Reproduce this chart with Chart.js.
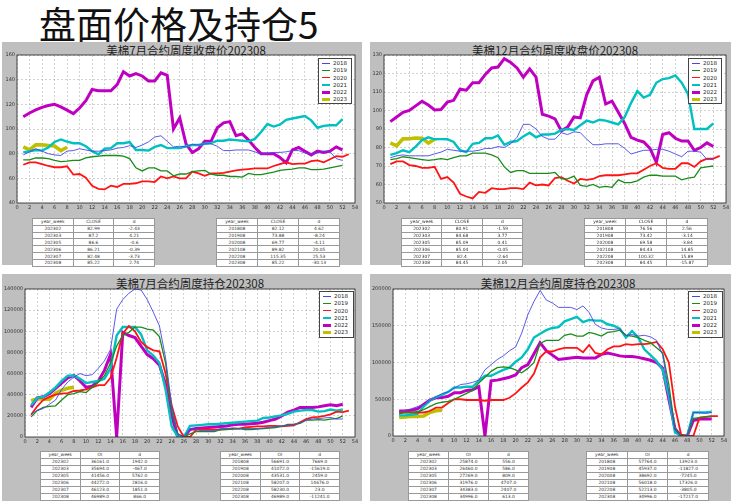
<!DOCTYPE html>
<html>
<head>
<meta charset="utf-8">
<script src="https://cdn.jsdelivr.net/npm/chart.js@4.4.0/dist/chart.umd.min.js"></script>
<style>
  body { margin: 0; width: 733px; height: 501px; background: #fff; position: relative; overflow: hidden; font-family: "DejaVu Sans", sans-serif; }
  .main-title { position: absolute; left: 39px; top: -4px; font: 37px "Noto Sans CJK SC"; color: #111; white-space: nowrap; }
  .panel { position: absolute; background: #bfbfbf; }
  .ptitle { position: absolute; font: 11.5px "Noto Sans CJK SC"; color: #222; white-space: nowrap; transform: translateX(-50%); line-height: 12px; }
  canvas { position: absolute; }
  .legend { position: absolute; background: #fff; border: 1px solid #444; box-sizing: border-box; padding-top: 1px; }
  .legend div { position: relative; height: 7.3px; font: 5.5px "DejaVu Sans"; color: #222; line-height: 7.3px; padding-left: 14px; }
  .legend span { position: absolute; left: 3px; width: 8px; top: 50%; }
  table.tb { position: absolute; border-collapse: collapse; background: #fff; table-layout: fixed; border: 1px solid #777; }
  table.tb td { border: 0.6px solid #999; text-align: center; padding: 0; font: 4.4px "DejaVu Sans"; color: #333; overflow: hidden; white-space: nowrap; }
</style>
</head>
<body>
<div class="main-title">盘面价格及持仓5</div>
<div id="stage"></div>
<script>
  const weeksMax = 54;
  const years = ['2018', '2019', '2020', '2021', '2022', '2023'];
  const colors = ['#4646e6', '#1a8c1a', '#ff1414', '#00c0c0', '#c000c0', '#c0c000'];
  const widths = [0.9, 1.3, 1.8, 2.4, 3, 3.6];

  // 美棉7月 close
  const c7_2018 = [79, 81.5, 84, 82, 80, 79, 78.5, 82.12, 82.5, 84, 83, 82, 82, 82.5, 83, 84.5, 85, 86.5, 85, 87, 89.5, 93.5, 94.5, 90, 85.5, 86, 85.5, 87.5, 87, 88, 88, 86, 82.5, 82.5, 83, 83, 83, 81.5, 79.5, 80, 81, 81, 81.5, 82.5, 82.5, 80.5, 79.5, 80.5, 82, 81.5, 76, 74.5];
  const c7_2019 = [75, 75, 76.5, 76.5, 76, 74.5, 73.5, 73.88, 74.5, 74.5, 76.5, 77.5, 78, 78.5, 78.5, 78.5, 78, 76, 68.5, 66, 68.5, 68.5, 66, 66, 62, 63.5, 63.5, 65.5, 66, 66.5, 63.5, 62.5, 62.5, 61.5, 61.5, 61, 64, 63, 63, 64, 65, 66.5, 67, 67.5, 68.5, 68.5, 67, 67, 67.5, 68.5, 69.5, 70.5];
  const c7_2020 = [71, 73, 73, 71.5, 70, 69, 69, 69.77, 63, 63.5, 60.5, 54, 51.5, 51, 54, 53, 55.5, 55.5, 56, 57.5, 57.5, 57, 61.5, 60, 61.5, 60, 60, 65.5, 64, 62, 64, 64, 64.5, 65.5, 66.5, 67, 67.5, 68, 68, 68, 70, 71.5, 73, 71.5, 72, 72, 74, 74.5, 73, 75.5, 78, 77.5, 79.5];
  const c7_2021 = [81, 82, 83, 82.5, 85, 89.5, 91.5, 89.82, 88.5, 88.5, 86, 82, 79.5, 84, 84.5, 88.5, 88.5, 89.5, 83, 83, 82.5, 85.5, 87, 84.5, 84.5, 84.5, 86, 87, 87, 88, 88.5, 90.5, 90.5, 91.5, 91, 90.5, 90, 92, 97.5, 104, 102, 103.5, 107.5, 108.5, 109.5, 110.5, 107, 101, 102.5, 103, 103, 108];
  const c7_2022 = [110, 113, 115.5, 117.5, 119, 120, 118, 115.35, 112.5, 117, 123, 132, 131, 131, 131, 136, 146.5, 143, 145, 143, 139, 139, 145.5, 143.5, 100, 109, 88, 81, 84, 90, 90, 101, 105, 106, 94.5, 96, 91, 85, 80, 80, 80, 77, 72.5, 83, 85, 82, 79, 82, 81, 82, 85.5, 83];
  const c7_2023 = [85.42, 82.99, 87.2, 87.1, 86.6, 86.21, 82.48, 85.22];

  // 美棉12月 close
  const c12_2018 = [74.5, 75.5, 76, 75.5, 75.5, 75.5, 75.5, 76.56, 77.5, 79, 78.5, 78, 78, 78, 78.5, 79.5, 79.5, 80.5, 80, 82, 85.5, 92.5, 92.5, 90, 86, 84.5, 84.5, 88, 87, 88.5, 88, 84.5, 81.5, 81.5, 82, 82, 82, 79.5, 76.5, 77.5, 78.5, 78.5, 79, 79, 78, 76.5, 75, 78, 78, 77.5, 73.5, 73.5];
  const c12_2019 = [73.5, 74, 75, 74.5, 74, 73.5, 73, 73.42, 74, 73.5, 74.5, 75.5, 75.5, 77, 77, 77, 76, 74.5, 69.5, 66.5, 67.5, 67.5, 66, 66, 66, 66, 66.5, 63, 63, 64.5, 59.5, 59, 60, 58.5, 59, 58.5, 62.5, 61, 61, 62, 64, 65, 65, 64.5, 64.5, 64.5, 62.5, 63.5, 64, 69, 69.5, 70];
  const c12_2020 = [71, 72.5, 72.5, 70.5, 70, 69, 69, 69.58, 63, 64, 61, 55, 53.5, 52.5, 56, 55.5, 58, 57.5, 57.5, 58, 58, 57.5, 61, 59.5, 60, 59.5, 63.5, 64, 62, 60.5, 63, 62.5, 63, 64.5, 65, 65, 65, 65.5, 66, 66, 68, 70, 71.5, 69, 68.5, 68.5, 71.5, 71.5, 69.5, 72.5, 74, 74, 75.5];
  const c12_2021 = [76, 77, 78.5, 77.5, 80.5, 84, 85.5, 84.43, 84.5, 84.5, 83, 78.5, 77.5, 82, 82.5, 85, 85, 86.5, 81.5, 83, 83.5, 86, 88, 85.5, 87, 87, 87.5, 89.5, 90, 89.5, 92, 94.5, 93.5, 95, 94.5, 93.5, 92.5, 96.5, 104, 110.5, 107, 108.5, 115, 117, 117.5, 119, 115, 109, 90, 90, 90, 93];
  const c12_2022 = [94, 96.5, 99, 100, 102.5, 105, 103, 100.32, 100.5, 104.5, 105.5, 111.5, 111, 115, 115, 119.5, 123, 123.5, 128, 126, 123, 118, 122.5, 118, 98, 97, 95.5, 89, 91, 96.5, 96, 108.5, 116, 118, 103.5, 105, 99, 93, 85.5, 84, 83, 79.5, 72, 87, 88, 85, 83.5, 83.5, 78.5, 80, 82.5, 80.5];
  const c12_2023 = [82.5, 80.91, 84.68, 84.7, 85.09, 85.04, 82.4, 84.45];

  // 美棉7月 open interest
  const oi7_2018 = [22000, 25000, 27000, 31000, 35000, 45000, 52000, 56691, 60000, 58000, 59000, 65000, 72000, 83000, 121000, 130000, 136000, 140000, 139000, 130000, 118000, 105000, 75000, 30000, 3000, 0, 8000, 7000, 6000, 6000, 6000, 8000, 8000, 8500, 8000, 8000, 8000, 8000, 8500, 9000, 10000, 10500, 11000, 12000, 13000, 16000, 17000, 17500, 18000, 18500, 17000, 17000];
  const oi7_2019 = [19000, 25000, 28000, 29000, 29500, 35000, 40000, 41072, 43000, 42000, 47000, 52000, 58000, 70000, 86000, 96000, 99000, 104000, 104000, 102000, 101000, 95000, 70000, 25000, 3000, 0, 3000, 5000, 5000, 5000, 5000, 7000, 7000, 7500, 8000, 7000, 7000, 7500, 8000, 8500, 9000, 10000, 12000, 12000, 13000, 16000, 16000, 16500, 16000, 17000, 17500, 20000];
  const oi7_2020 = [21000, 29000, 35000, 38000, 40000, 41000, 41500, 43531, 44000, 45000, 47000, 49000, 49000, 56000, 75000, 98000, 105000, 100000, 90000, 85000, 82000, 81000, 60000, 30000, 10000, 0, 0, 7000, 7000, 7000, 7000, 7000, 7500, 8000, 8000, 9000, 9500, 10000, 10000, 10500, 10500, 10000, 10500, 11000, 14000, 17000, 18500, 19000, 20000, 21500, 24000, 23500, 25000];
  const oi7_2021 = [30000, 37000, 38000, 42000, 47000, 53000, 58000, 58207, 55000, 51000, 52000, 53000, 55000, 65000, 96000, 104000, 104000, 104000, 97000, 82000, 77000, 70000, 45000, 10000, 0, 0, 10500, 11000, 11500, 12000, 12000, 12500, 13000, 13500, 14000, 14500, 15000, 15500, 18000, 18500, 19500, 20500, 22000, 24000, 25000, 25500, 25500, 24000, 24500, 26000, 25000, 26000];
  const oi7_2022 = [28000, 37000, 38000, 41000, 46000, 51000, 56000, 58230, 53000, 47000, 48000, 53000, 63000, 78000, 0, 99000, 96000, 94000, 86000, 78000, 74000, 68000, 50000, 20000, 0, 0, 7000, 8000, 8500, 9000, 9500, 10000, 10500, 11500, 12000, 12000, 12500, 13000, 14000, 15500, 17000, 20000, 23500, 25500, 28000, 28000, 28000, 28500, 29500, 30500, 29500, 31000];
  const oi7_2023 = [34219, 36161, 35694, 35694, 41456, 44272, 46123, 46989];

  // 美棉12月 open interest
  const oi12_2018 = [33000, 35000, 37000, 40000, 42000, 48000, 53000, 57764, 60000, 65000, 70000, 71000, 73000, 76000, 90000, 97000, 104000, 109000, 116000, 121000, 140000, 165000, 183000, 198000, 185000, 181000, 175000, 175000, 175000, 172000, 177000, 168000, 152000, 147000, 145000, 145000, 146000, 137000, 138000, 136000, 137000, 135000, 130000, 110000, 60000, 8000, 0, 0, 32000, 32000, 31000, 32000];
  const oi12_2019 = [30000, 32000, 32000, 33000, 36000, 40000, 44000, 45937, 47000, 50000, 54000, 58000, 62000, 72000, 80000, 88000, 93000, 94000, 93000, 90000, 86000, 92000, 100000, 126000, 130000, 130000, 130000, 137000, 139000, 136000, 136000, 141000, 139000, 136000, 141000, 142000, 144000, 137000, 136000, 134000, 130000, 127000, 120000, 113000, 70000, 10000, 0, 0, 24000, 25000, 26000, 27000];
  const oi12_2020 = [32000, 32000, 32000, 32000, 32000, 34000, 38500, 38692, 45000, 50000, 50000, 49000, 49000, 49000, 48000, 49000, 49000, 49000, 52000, 58000, 66000, 73000, 85000, 107000, 115000, 115000, 118000, 120000, 120000, 120000, 114000, 124000, 113000, 111000, 118000, 122000, 122000, 125000, 124000, 125000, 125000, 126000, 128000, 118000, 100000, 40000, 2000, 0, 0, 25000, 26000, 27000, 27000];
  const oi12_2021 = [28000, 28000, 29000, 30000, 40000, 48000, 53000, 56018, 60000, 66000, 66000, 67000, 67000, 75000, 82000, 82000, 86000, 90000, 93000, 101000, 107000, 118000, 134000, 139000, 144000, 147000, 148000, 156000, 159000, 162000, 155000, 158000, 157000, 157000, 152000, 150000, 146000, 134000, 143000, 134000, 118000, 110000, 102000, 90000, 55000, 5000, 0, 0, 32000, 32000, 32000, 33000];
  const oi12_2022 = [34000, 34000, 35000, 37000, 43000, 49000, 52000, 52213, 54000, 59000, 59000, 62000, 63000, 67000, 0, 75000, 76000, 78000, 80000, 83000, 93000, 97000, 112000, 127000, 116000, 110000, 104000, 105000, 106000, 107000, 106000, 106000, 106000, 111000, 113000, 111000, 109000, 108000, 108000, 107000, 105000, 103000, 100000, 92000, 50000, 10000, 0, 0, 21000, 23000, 23000, 23000];
  const oi12_2023 = [25318, 25874, 26460, 26460, 27269, 31976, 34383, 34996];

  // tables under each chart
  const recentWeeks = ['202302', '202303', '202305', '202306', '202307', '202308'];
  const sameWeeks = ['201808', '201908', '202008', '202108', '202208', '202308'];
  const t7CloseRecent = [['82.99', '-2.43'], ['87.2', '4.21'], ['86.6', '-0.6'], ['86.21', '-0.39'], ['82.48', '-3.73'], ['85.22', '2.74']];
  const t7CloseYears = [['82.12', '4.62'], ['73.88', '-8.24'], ['69.77', '-4.11'], ['89.82', '20.05'], ['115.35', '25.53'], ['85.22', '-30.13']];
  const t12CloseRecent = [['80.91', '-1.59'], ['84.68', '3.77'], ['85.09', '0.41'], ['85.04', '-0.05'], ['82.4', '-2.64'], ['84.45', '2.05']];
  const t12CloseYears = [['76.56', '2.56'], ['73.42', '-3.14'], ['69.58', '-3.84'], ['84.43', '14.85'], ['100.32', '15.89'], ['84.45', '-15.87']];
  const t7OiRecent = [['36161.0', '1942.0'], ['35694.0', '-467.0'], ['41456.0', '5762.0'], ['44272.0', '2816.0'], ['46123.0', '1851.0'], ['46989.0', '866.0']];
  const t7OiYears = [['56691.0', '7669.0'], ['41072.0', '-15619.0'], ['43531.0', '2459.0'], ['58207.0', '14676.0'], ['58230.0', '23.0'], ['46989.0', '-11241.0']];
  const t12OiRecent = [['25874.0', '556.0'], ['26460.0', '586.0'], ['27269.0', '809.0'], ['31976.0', '4707.0'], ['34383.0', '2407.0'], ['34996.0', '613.0']];
  const t12OiYears = [['57764.0', '13923.0'], ['45937.0', '-11827.0'], ['38692.0', '-7245.0'], ['56018.0', '17326.0'], ['52213.0', '-3805.0'], ['34996.0', '-17217.0']];

  const stage = document.getElementById('stage');

  function el(tag, cls, style, html) {
    const e = document.createElement(tag);
    if (cls) e.className = cls;
    Object.assign(e.style, style || {});
    if (html !== undefined) e.innerHTML = html;
    stage.appendChild(e);
    return e;
  }

  // white plot background, dashed grid and black frame like the old matplotlib look
  const frameBox = {
    id: 'frameBox',
    beforeDraw(chart) {
      const a = chart.chartArea, ctx = chart.ctx;
      ctx.save();
      ctx.fillStyle = '#fff';
      ctx.fillRect(a.left, a.top, a.right - a.left, a.bottom - a.top);
      ctx.restore();
    },
    afterDraw(chart) {
      const a = chart.chartArea, ctx = chart.ctx;
      ctx.save();
      ctx.strokeStyle = '#222';
      ctx.lineWidth = 0.8;
      ctx.strokeRect(a.left, a.top, a.right - a.left, a.bottom - a.top);
      ctx.restore();
    }
  };

  function drawChart(plot, yAxisW, yMin, yMax, yStep, series) {
    const padTop = 5, padRight = 7, xAxisH = 9;
    const left = plot.l - yAxisW, top = plot.t - padTop;
    const w = plot.r - left + padRight, h = plot.b - top + xAxisH;
    const cv = el('canvas', '', { left: left + 'px', top: top + 'px', width: w + 'px', height: h + 'px' });
    cv.width = w; cv.height = h;
    const gridOpts = { color: '#b4b4b4', drawTicks: false, lineWidth: 0.6 };
    new Chart(cv, {
      type: 'line',
      data: {
        datasets: series.map((arr, i) => ({
          label: years[i],
          data: arr.map((v, k) => ({ x: k + 1, y: v })),
          borderColor: colors[i],
          borderWidth: widths[i],
          pointRadius: 0,
          fill: false,
          tension: 0
        }))
      },
      options: {
        responsive: false,
        animation: false,
        layout: { padding: { left: 0, top: padTop, right: padRight, bottom: 0 } },
        plugins: { legend: { display: false }, title: { display: false }, tooltip: { enabled: false } },
        scales: {
          x: {
            type: 'linear', min: 0, max: weeksMax,
            ticks: { stepSize: 2, font: { size: 5, family: 'DejaVu Sans' }, color: '#333', padding: 2, maxRotation: 0, autoSkip: false },
            grid: gridOpts,
            border: { display: false, dash: [2, 2] },
            afterFit: s => { s.height = xAxisH; }
          },
          y: {
            min: yMin, max: yMax,
            ticks: { stepSize: yStep, font: { size: 5, family: 'DejaVu Sans' }, color: '#333', padding: 2, callback: v => String(v) },
            grid: gridOpts,
            border: { display: false, dash: [2, 2] },
            afterFit: s => { s.width = yAxisW; }
          }
        }
      },
      plugins: [frameBox]
    });
  }

  function drawLegend(x, y, w, h) {
    const lg = el('div', 'legend', { left: x + 'px', top: y + 'px', width: w + 'px', height: h + 'px' });
    years.forEach((yr, i) => {
      const row = document.createElement('div');
      row.innerHTML = '<span style="border-top:' + widths[i] + 'px solid ' + colors[i] + ';margin-top:-' + (widths[i] / 2) + 'px"></span>' + yr;
      lg.appendChild(row);
    });
  }

  function drawTable(x, y, w, h, valName, weeks, rows) {
    let html = '<tr><td>year_week</td><td>' + valName + '</td><td>d</td></tr>';
    weeks.forEach((wk, i) => { html += '<tr><td>' + wk + '</td><td>' + rows[i][0] + '</td><td>' + rows[i][1] + '</td></tr>'; });
    const t = el('table', 'tb', { left: x + 'px', top: y + 'px', width: w + 'px', height: h + 'px' }, html);
    t.querySelectorAll('td').forEach(td => { td.style.height = (h / 7 - 0.6) + 'px'; });
  }

  // panels
  el('div', 'panel', { left: '2px', top: '42px', width: '360px', height: '223px' });
  el('div', 'panel', { left: '370px', top: '42px', width: '361px', height: '223px' });
  el('div', 'panel', { left: '2px', top: '274px', width: '360px', height: '227px' });
  el('div', 'panel', { left: '370px', top: '274px', width: '361px', height: '227px' });

  el('div', 'ptitle', { left: '186px', top: '44px' }, '美棉7月合约周度收盘价202308');
  el('div', 'ptitle', { left: '555px', top: '44px' }, '美棉12月合约周度收盘价202308');
  el('div', 'ptitle', { left: '190px', top: '277px' }, '美棉7月合约周度持仓202308');
  el('div', 'ptitle', { left: '558px', top: '277px' }, '美棉12月合约周度持仓202308');

  drawChart({ l: 17, t: 55, r: 355, b: 203 }, 14, 40, 160, 20, [c7_2018, c7_2019, c7_2020, c7_2021, c7_2022, c7_2023]);
  drawChart({ l: 384, t: 55, r: 726, b: 203 }, 14, 50, 130, 10, [c12_2018, c12_2019, c12_2020, c12_2021, c12_2022, c12_2023]);
  drawChart({ l: 25, t: 289, r: 355, b: 437 }, 22, 0, 140000, 20000, [oi7_2018, oi7_2019, oi7_2020, oi7_2021, oi7_2022, oi7_2023]);
  drawChart({ l: 393, t: 289, r: 724, b: 436 }, 22, 0, 200000, 50000, [oi12_2018, oi12_2019, oi12_2020, oi12_2021, oi12_2022, oi12_2023]);

  drawLegend(318, 58, 34, 46);
  drawLegend(688, 58, 34, 46);
  drawLegend(319, 291, 35, 47);
  drawLegend(688, 291, 35, 47);

  drawTable(32, 218, 123, 45, 'CLOSE', recentWeeks, t7CloseRecent);
  drawTable(216, 218, 124, 45, 'CLOSE', sameWeeks, t7CloseYears);
  drawTable(401, 218, 122, 45, 'CLOSE', recentWeeks, t12CloseRecent);
  drawTable(584, 218, 124, 45, 'CLOSE', sameWeeks, t12CloseYears);
  drawTable(40, 451, 120, 46, 'OI', recentWeeks, t7OiRecent);
  drawTable(220, 451, 120, 46, 'OI', sameWeeks, t7OiYears);
  drawTable(408, 451, 121, 46, 'OI', recentWeeks, t12OiRecent);
  drawTable(586, 451, 123, 46, 'OI', sameWeeks, t12OiYears);
</script>
</body>
</html>
